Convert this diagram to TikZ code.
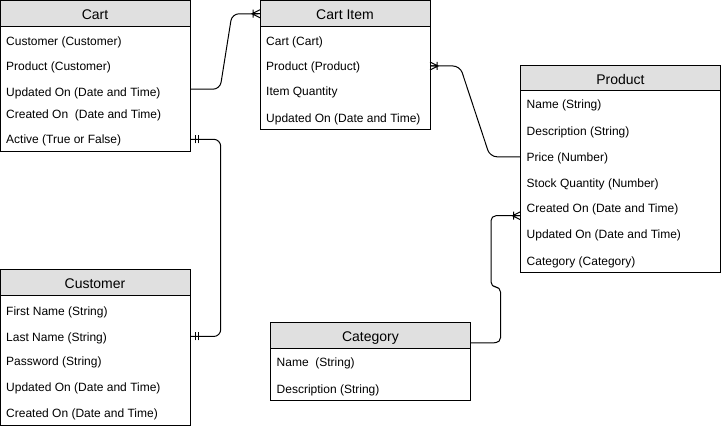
\documentclass[tikz,border=0pt]{standalone}
\usepackage{fontspec}
\setmainfont{Liberation Sans}
\usetikzlibrary{calc}
\definecolor{hdrgray}{HTML}{E0E0E0}
\begin{document}
\begin{tikzpicture}[x=1pt,y=-1pt,
  entbox/.style={draw, line width=1pt, anchor=north west, inner sep=0pt, outer sep=0pt},
  entheader/.style={draw, line width=1pt, fill=hdrgray, anchor=north west, inner sep=0pt, outer sep=0pt, minimum height=25.5pt, text height=12pt, text depth=0pt, font=\fontsize{14}{16}\selectfont},
  attr/.style={anchor=west, inner sep=0pt, text height=9.3pt, text depth=0pt, font=\fontsize{12}{14}\selectfont},
  conn/.style={line width=1pt, rounded corners=7pt},
  crowmany/.pic={\draw[line width=1pt] (0,-4) -- (-8,0) -- (0,4) (0,0) -- (-8,0) (-7,-4) -- (-7,4);},
  crowone/.pic={\draw[line width=1pt] (-5,-4) -- (-5,4) (-8.5,-4) -- (-8.5,4);}
]
\useasboundingbox (0,0) rectangle (721,430);

% Cart
\node[entbox, minimum width=190pt, minimum height=151pt] (cart) at (0,1) {};
\node[entheader, minimum width=190pt] (cart-h) at (0,1) {Cart};
\node[attr] (c-1) at (6,40.5) {Customer (Customer)};
\node[attr] (c-2) at (6,66) {Product (Customer)};
\node[attr] (c-3) at (6,91.5) {Updated On (Date and Time)};
\node[attr] (c-4) at (6,113.5) {Created On~ (Date and Time)};
\node[attr] (c-5) at (6,139.3) {Active (True or False)};

% Cart Item
\node[entbox, minimum width=170pt, minimum height=129pt] (ci) at (260,1) {};
\node[entheader, minimum width=170pt] (ci-h) at (260,1) {Cart Item};
\node[attr] (ci-1) at (266,40.5) {Cart (Cart)};
\node[attr] (ci-2) at (266,66) {Product (Product)};
\node[attr] (ci-3) at (266,91) {Item Quantity};
\node[attr] (ci-4) at (266,117.5) {Updated On (Date and Time)};

% Product
\node[entbox, minimum width=200pt, minimum height=207pt] (p) at (520.5,65.5) {};
\node[entheader, minimum width=200pt] (p-h) at (520.5,65.5) {Product};
\node[attr] (p-1) at (526.5,103.5) {Name (String)};
\node[attr] (p-2) at (526.5,130.5) {Description (String)};
\node[attr] (p-3) at (526.5,156.8) {Price (Number)};
\node[attr] (p-4) at (526.5,183) {Stock Quantity (Number)};
\node[attr] (p-5) at (526.5,208.3) {Created On (Date and Time)};
\node[attr] (p-6) at (526.5,234.3) {Updated On (Date and Time)};
\node[attr] (p-7) at (526.5,260.5) {Category (Category)};

% Customer
\node[entbox, minimum width=190pt, minimum height=156pt] (cu) at (0,270) {};
\node[entheader, minimum width=190pt] (cu-h) at (0,270) {Customer};
\node[attr] (cu-1) at (6,310.5) {First Name (String)};
\node[attr] (cu-2) at (6,336.5) {Last Name (String)};
\node[attr] (cu-3) at (6,361) {Password (String)};
\node[attr] (cu-4) at (6,387) {Updated On (Date and Time)};
\node[attr] (cu-5) at (6,413.3) {Created On (Date and Time)};

% Category
\node[entbox, minimum width=200pt, minimum height=77.5pt] (cat) at (270.5,322.7) {};
\node[entheader, minimum width=200pt] (cat-h) at (270.5,322.7) {Category};
\node[attr] (cat-1) at (276.5,361.7) {Name~ (String)};
\node[attr] (cat-2) at (276.5,388.7) {Description (String)};

% Connectors
\coordinate (cart-out) at ($(cart.east |- c-3)+(0,-2.3)$);
\draw[conn] (cart-out) -- (220,89.2) -- (232,13.8) -- (ci-h.west);
\pic at (ci-h.west) {crowmany};

\draw[conn] (ci.east |- ci-2) -- (460,66) -- (490,156.8) -- (p.west |- p-3);
\pic[rotate=180] at (ci.east |- ci-2) {crowmany};

\draw[conn] (cart.east |- c-5) -- (220.7,139.3) -- (220.7,336.5) -- (cu.east |- cu-2);
\pic[rotate=180] at (cart.east |- c-5) {crowone};
\pic[rotate=180] at (cu.east |- cu-2) {crowone};

\coordinate (cat-out) at ($(cat-h.east)+(0,7.5)$);
\coordinate (p-in) at ($(p.west |- p-5)+(0,7.4)$);
\draw[conn, rounded corners=5pt] (cat-out) -- (500.5,342.7) -- (500.5,287) -- (491,287) -- (491,215.7) -- (p-in);
\pic at (p-in) {crowmany};
\end{tikzpicture}
\end{document}
